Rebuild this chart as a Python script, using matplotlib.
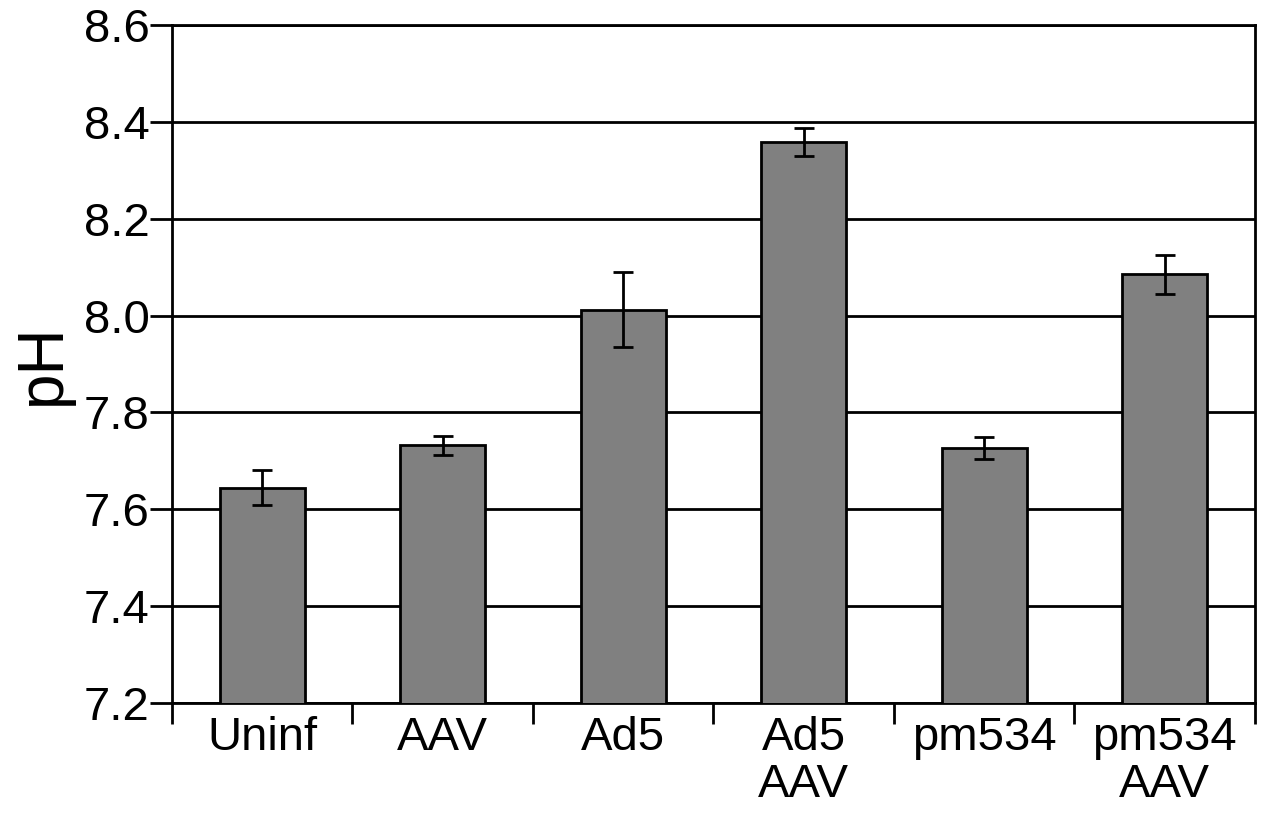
import matplotlib.pyplot as plt
import numpy as np

plt.rcParams['font.family'] = ['Liberation Sans', 'DejaVu Sans']

# data
groups = ['Uninf', 'AAV', 'Ad5', 'Ad5\nAAV', 'pm534', 'pm534\nAAV']
ph_mean = [7.645, 7.732, 8.012, 8.358, 7.726, 8.085]
ph_err = [0.036, 0.020, 0.077, 0.029, 0.023, 0.041]

fig = plt.figure(figsize=(12.71, 8.15), dpi=100)
ax = fig.add_axes([0.1353, 0.1374, 0.8521, 0.8319])

x = np.arange(len(groups))
ax.bar(x, ph_mean, width=0.47, color='#808080', edgecolor='black', linewidth=2, zorder=3,
       yerr=ph_err, error_kw=dict(ecolor='black', elinewidth=2, capsize=7, capthick=2, zorder=4))

ax.set_xlim(-0.5, len(groups) - 0.5)
ax.set_ylim(7.2, 8.6)
ax.set_yticks(np.arange(7.2, 8.61, 0.2))
ax.set_yticklabels([f'{v:.1f}' for v in np.arange(7.2, 8.61, 0.2)])
ax.yaxis.grid(True, color='black', linewidth=2, zorder=0)

# category labels between boundary ticks
ax.set_xticks(np.arange(-0.5, len(groups), 1.0))
ax.set_xticklabels([])
ax.set_xticks(x, minor=True)
ax.set_xticklabels(groups, minor=True, fontsize=34, linespacing=1.1)
ax.tick_params(axis='x', which='minor', length=0, pad=9)
ax.tick_params(axis='x', which='major', length=15, width=2)
ax.tick_params(axis='y', length=16, width=2, labelsize=34, pad=0)

for s in ax.spines.values():
    s.set_linewidth(2)

ax.set_ylabel('pH', fontsize=46, labelpad=8)

plt.savefig('out.png', dpi=100)
